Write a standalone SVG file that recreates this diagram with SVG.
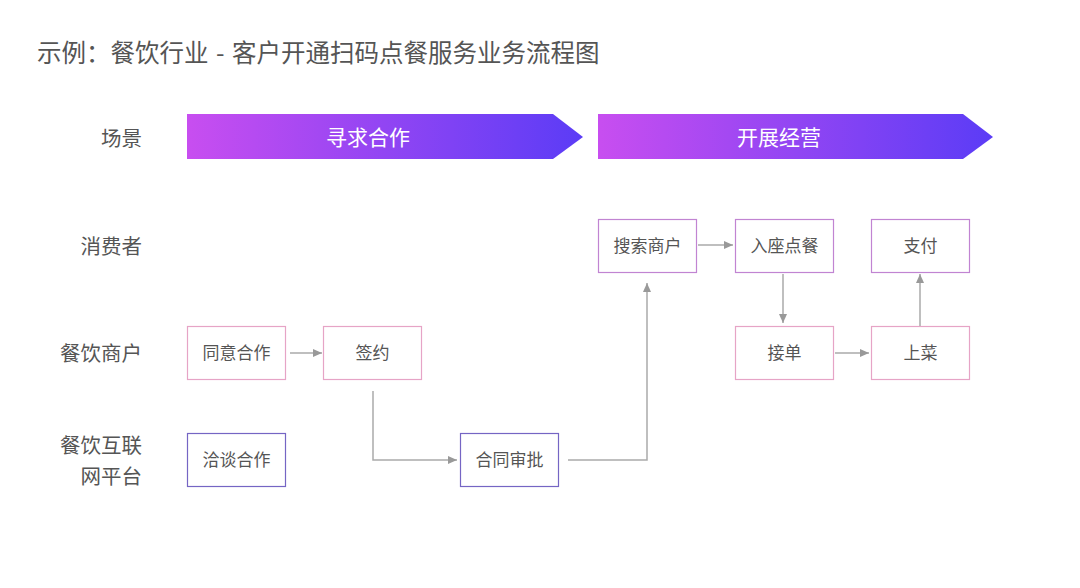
<svg xmlns="http://www.w3.org/2000/svg" width="1080" height="588" viewBox="0 0 1080 588">
<defs>
<linearGradient id="g" x1="0" y1="0" x2="1" y2="0">
<stop offset="0" stop-color="#c84ef0"/>
<stop offset="1" stop-color="#5b3cf6"/>
</linearGradient>
<marker id="ah" markerWidth="10" markerHeight="10" refX="9" refY="5" orient="auto" markerUnits="userSpaceOnUse">
<path d="M0,1 L9,5 L0,9 z" fill="#999"/>
</marker>
<style>
text{font-family:"Noto Sans CJK SC","Noto Sans",sans-serif;}
.t{font-size:24.5px;fill:#555;}
.lane{font-size:20.5px;fill:#555;text-anchor:end;}
.ban{font-size:21px;fill:#fff;text-anchor:middle;}
.nt{font-size:17px;fill:#555;text-anchor:middle;}
.n{fill:#fff;stroke-width:1.2;}
.pk{stroke:#e6a4c6;}
.pu{stroke:#7565c4;}
.mx{stroke:#c184d2;}
.c{fill:none;stroke:#aaa;stroke-width:1.5;}
</style>
</defs>
<rect width="1080" height="588" fill="#fff"/>
<text class="t" x="37" y="62">示例：餐饮行业 <tspan dx="2">-</tspan><tspan dx="2"> </tspan>客户开通扫码点餐服务业务流程图</text>
<g id="lanes">
<text class="lane" x="142" y="146">场景</text>
<text class="lane" x="142" y="254">消费者</text>
<text class="lane" x="142" y="361">餐饮商户</text>
<text class="lane" x="142" y="453">餐饮互联</text>
<text class="lane" x="142" y="484">网平台</text>
</g>
<g id="banner1">
<polygon points="187,114 553,114 583,137 553,159 187,159" fill="url(#g)"/>
<text class="ban" x="368" y="144.5">寻求合作</text>
</g>
<g id="banner2">
<polygon points="598,114 963,114 993,137 963,159 598,159" fill="url(#g)"/>
<text class="ban" x="779" y="144.5">开展经营</text>
</g>
<g id="n1"><rect class="n pk" x="187.5" y="326.5" width="98" height="53"/><text class="nt" x="236.5" y="359">同意合作</text></g>
<g id="n2"><rect class="n pk" x="323.5" y="326.5" width="98" height="53"/><text class="nt" x="372.5" y="359">签约</text></g>
<g id="n3"><rect class="n pu" x="187.5" y="433.5" width="98" height="53"/><text class="nt" x="236.5" y="466">洽谈合作</text></g>
<g id="n4"><rect class="n pu" x="460.5" y="433.5" width="98" height="53"/><text class="nt" x="509.5" y="466">合同审批</text></g>
<g id="n5"><rect class="n mx" x="598.5" y="219.5" width="98" height="53"/><text class="nt" x="647.5" y="252">搜索商户</text></g>
<g id="n6"><rect class="n mx" x="735.5" y="219.5" width="98" height="53"/><text class="nt" x="784.5" y="252">入座点餐</text></g>
<g id="n7"><rect class="n mx" x="871.5" y="219.5" width="98" height="53"/><text class="nt" x="920.5" y="252">支付</text></g>
<g id="n8"><rect class="n pk" x="735.5" y="326.5" width="98" height="53"/><text class="nt" x="784.5" y="359">接单</text></g>
<g id="n9"><rect class="n pk" x="871.5" y="326.5" width="98" height="53"/><text class="nt" x="920.5" y="359">上菜</text></g>
<g id="connectors">
<path class="c" d="M290,353 H322" marker-end="url(#ah)"/>
<path class="c" d="M373,391 V460 H457" marker-end="url(#ah)"/>
<path class="c" d="M568,460 H647 V283" marker-end="url(#ah)"/>
<path class="c" d="M698,245 H733" marker-end="url(#ah)"/>
<path class="c" d="M783,274 V323" marker-end="url(#ah)"/>
<path class="c" d="M835,353 H869" marker-end="url(#ah)"/>
<path class="c" d="M920,326 V274" marker-end="url(#ah)"/>
</g>
</svg>
